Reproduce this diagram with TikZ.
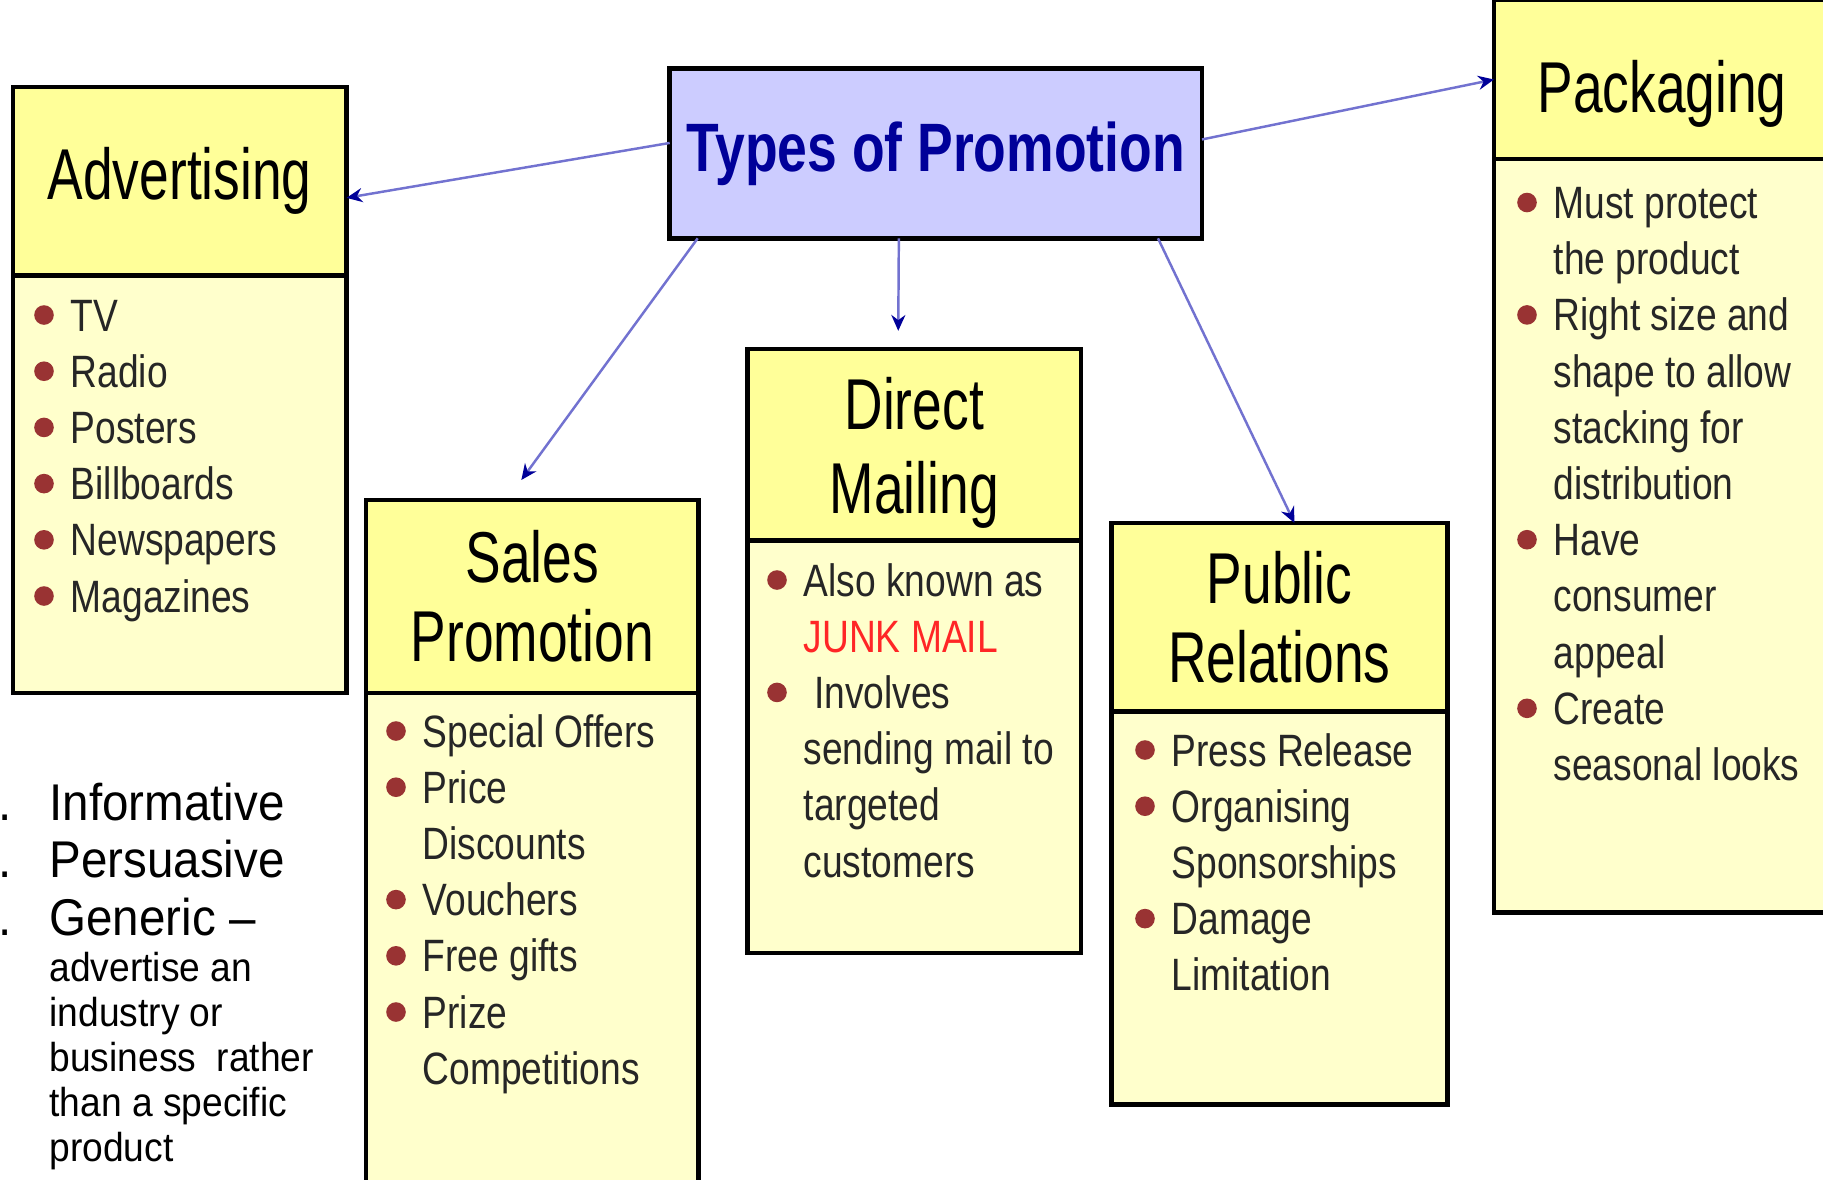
\documentclass[tikz,border=0pt]{standalone}
\usepackage{fontspec}
\setmainfont{Liberation Sans}
\newfontfamily\titlefont[FakeStretch=0.74]{Liberation Sans}
\newfontfamily\typesfont[FakeStretch=0.78]{Liberation Sans}
\newfontfamily\itemfont[FakeStretch=0.82]{Liberation Sans}
\newfontfamily\listfont[FakeStretch=0.92]{Liberation Sans}
\usetikzlibrary{positioning,calc,arrows.meta}

\definecolor{headyellow}{HTML}{FFFF99}
\definecolor{bodyyellow}{HTML}{FFFFCC}
\definecolor{typesblue}{HTML}{CCCCFF}
\definecolor{typestext}{HTML}{000099}
\definecolor{linkblue}{HTML}{7272D0}
\definecolor{bulletred}{HTML}{993333}
\definecolor{junkred}{HTML}{FF2626}

\tikzset{
    headbox/.style={draw, rectangle, line width=1.3pt, fill=headyellow, outer sep=0pt, inner sep=0pt, align=center, font=\titlefont\fontsize{20.5}{22.5}\selectfont},
    bodybox/.style={draw, rectangle, line width=1.3pt, fill=bodyyellow, outer sep=0pt},
    typesbox/.style={draw, rectangle, line width=1.3pt, fill=typesblue, outer sep=0pt, text=typestext, font=\typesfont\bfseries\fontsize{19.5}{22}\selectfont},
    itemtext/.style={anchor=base west, inner sep=0pt, text=black!85, font=\itemfont\fontsize{12.9}{15.9}\selectfont},
    listbig/.style={anchor=base west, inner sep=0pt, font=\listfont\fontsize{14.7}{17}\selectfont},
    listsmall/.style={anchor=base west, inner sep=0pt, font=\listfont\fontsize{11.5}{13}\selectfont},
    link/.style={draw=linkblue, line width=0.7pt, -{Stealth[length=4.5pt, width=4pt, color=typestext]}}
}

% bulleted lines of a box: name, x of text, first baseline, {bullet/text,...}
\newcommand{\boxitems}[4]{%
    \foreach \bu/\tx [count=\i] in {#4}{%
        \node[itemtext] (#1-\i) at (#2, {#3-0.562*(\i-1)}) {\tx};
        \ifnum\bu=1 \fill[bulletred] ($(#1-\i.base west)+(-0.26,0.16)$) circle (0.098); \fi
    }}

\begin{document}
\begin{tikzpicture}
            \useasboundingbox (0,0) rectangle (18.23,-11.80);
            \clip (0,0) rectangle (18.23,-11.80);
            \fill[white] (0,0) rectangle (18.23,-11.80);

            \node[typesbox, minimum width=5.323cm, minimum height=1.697cm, anchor=north west](types) at (6.697,-0.686){Types of Promotion};

            \node[headbox, minimum width=3.337cm, minimum height=1.885cm, anchor=north west](adv-head) at (0.128,-0.87){Advertising};
            \node[bodybox, minimum width=3.337cm, minimum height=4.175cm, below=0pt of adv-head](adv-body){};
            \boxitems{adv}{0.70}{-3.31}{1/TV, 1/Radio, 1/Posters, 1/Billboards, 1/Newspapers, 1/Magazines}

            \node[headbox, minimum width=3.327cm, minimum height=1.93cm, anchor=north west](sales-head) at (3.66,-5.00){Sales\\Promotion};
            \node[bodybox, minimum width=3.327cm, minimum height=5.2cm, below=0pt of sales-head](sales-body){};
            \boxitems{sales}{4.22}{-7.47}{1/Special Offers, 1/Price, 0/Discounts, 1/Vouchers, 1/Free gifts, 1/Prize, 0/Competitions}

            \node[headbox, minimum width=3.335cm, minimum height=1.918cm, anchor=north west, font=\titlefont\fontsize{20.5}{24}\selectfont](direct-head) at (7.475,-3.488){\rule{0pt}{0.69cm}Direct\\Mailing};
            \node[bodybox, minimum width=3.335cm, minimum height=4.124cm, below=0pt of direct-head](direct-body){};
            \boxitems{direct}{8.03}{-5.96}{1/Also known as, 0/{\color{junkred}JUNK MAIL}, 1/\ Involves, 0/sending mail to, 0/targeted, 0/customers}

            \node[headbox, minimum width=3.359cm, minimum height=1.885cm, anchor=north west](pub-head) at (11.115,-5.23){Public\\Relations};
            \node[bodybox, minimum width=3.359cm, minimum height=3.93cm, below=0pt of pub-head](pub-body){};
            \boxitems{pub}{11.71}{-7.66}{1/Press Release, 1/Organising, 0/Sponsorships, 1/Damage, 0/Limitation}

            \node[headbox, minimum width=3.36cm, minimum height=1.59cm, anchor=north west, text height=0.8cm](pack-head) at (14.94,0){Packaging};
            \node[bodybox, minimum width=3.36cm, minimum height=7.536cm, below=0pt of pack-head](pack-body){};
            \boxitems{pack}{15.53}{-2.185}{1/Must protect, 0/the product, 1/Right size and, 0/shape to allow, 0/stacking for, 0/distribution, 1/Have, 0/consumer, 0/appeal, 1/Create, 0/seasonal looks}

            \coordinate (adv-tip) at ($(adv-head.east)+(0,-0.166)$);
            \coordinate (sales-tip) at ($(sales-head.north)+(-0.11,0.20)$);
            \coordinate (direct-tip) at ($(direct-head.north)+(-0.16,0.18)$);
            \coordinate (pub-tip) at ($(pub-head.north)+(0.15,0)$);
            \draw[link] ($(types.west)+(0,0.105)$) -- (adv-tip);
            \draw[link] ($(types.east)+(0,0.14)$) -- (pack-head.west);
            \draw[link] ($(types.south west)+(0.28,0)$) -- (sales-tip);
            \draw[link] ($(types.south)+(-0.37,0)$) -- (direct-tip);
            \draw[link] ($(types.south east)+(-0.44,0)$) -- (pub-tip);

            \foreach \tx [count=\i] in {Informative, Persuasive, Generic \textendash} {
                \node[listbig](kind-\i) at (0.488, {-8.20-0.575*(\i-1)}){\tx};
                \node[listbig, anchor=base east](num-\i) at (0.125, {-8.20-0.575*(\i-1)}){\i.};
            }
            \foreach \tx [count=\i] in {advertise an, industry or, business~ rather, than a specific, product}
                \node[listsmall](generic-\i) at (0.488, {-9.81-0.45*(\i-1)}){\tx};
\end{tikzpicture}
\end{document}
